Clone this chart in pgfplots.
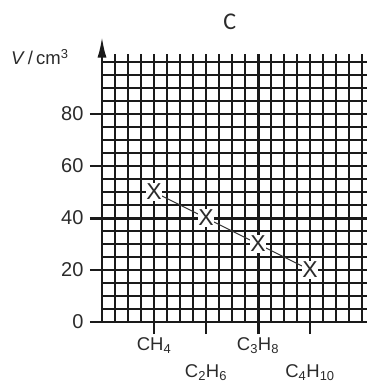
\documentclass[border=0pt]{standalone}
\usepackage{fontspec}
\setmainfont{Liberation Sans}
\newfontfamily\titlefont{Carlito}
\usepackage{pgfplots}
\pgfplotsset{compat=1.18}
\usetikzlibrary{arrows.meta}

\definecolor{gridInk}{HTML}{1A1A1A}
\definecolor{labelInk}{HTML}{2B2B2B}

\begin{document}
\begin{tikzpicture}
% page frame: axis origin 102pt from the left, 67pt from the bottom (1pt = 1px)
\path[use as bounding box] (-102pt,-67pt) rectangle (265pt,322pt);
\begin{axis}[
  at={(0,0)}, anchor=south west,
  scale only axis,
  width=265pt, height=267.8pt,
  xmin=0, xmax=5.09615,
  ymin=0, ymax=103,
  clip=false,
  axis x line=bottom, axis y line=left,
  axis line style={-, line width=1.6pt, gridInk},
  xtick={1,3},
  xticklabels={CH\textsubscript{4}, C\textsubscript{3}H\textsubscript{8}},
  extra x ticks={2,4},
  extra x tick labels={C\textsubscript{2}H\textsubscript{6}, C\textsubscript{4}H\textsubscript{10}},
  extra x tick style={xticklabel style={yshift=-27pt}},
  ytick={0,20,40,60,80},
  minor xtick={0.25,0.5,0.75,1.25,1.5,1.75,2.25,2.5,2.75,3.25,3.5,3.75,4.25,4.5,4.75,5},
  minor ytick={5,10,15,25,30,35,45,50,55,65,70,75,85,90,95,100},
  grid=both,
  major grid style={line width=1.6pt, gridInk},
  minor grid style={line width=1.6pt, gridInk},
  tick align=outside,
  major tick length=12pt,
  minor tick length=0pt,
  every tick/.style={line width=1.6pt, gridInk},
  xticklabel style={anchor=north, font=\fontsize{18.5}{20}\selectfont, labelInk},
  /pgf/number format/assume math mode=true,
  yticklabel style={xshift=-3pt, font=\fontsize{20}{22}\selectfont, labelInk},
]
% thick reference lines
\draw[line width=3pt, gridInk] (axis cs:0,40) ++(-12pt,0) -- (axis cs:5.09615,40);
\draw[line width=3pt, gridInk] (axis cs:3,0) ++(0,-12pt) -- (axis cs:3,103);

% y axis arrow
\draw[line width=1.6pt, gridInk, -{Latex[length=20pt, width=9pt]}]
  (axis cs:0,0) -- (axis cs:0,109.4);

% data
\addplot[line width=1.1pt, black!80, mark=text, text mark as node=true,
  text mark={\fontsize{23}{25}\selectfont X},
  text mark style={fill=white, inner sep=0.8pt, text=labelInk}]
  coordinates {(1,50) (2,40) (3,30) (4,20)};

\node[anchor=east, font=\fontsize{18.5}{20}\selectfont, labelInk, xshift=-30pt]
  at (axis cs:0,102) {\textit{V}\,/\,cm\textsuperscript{3}};
\node[font=\titlefont\fontsize{24}{26}\selectfont, labelInk] at (axis cs:2.457,115.6) {C};
\end{axis}
\end{tikzpicture}
\end{document}
